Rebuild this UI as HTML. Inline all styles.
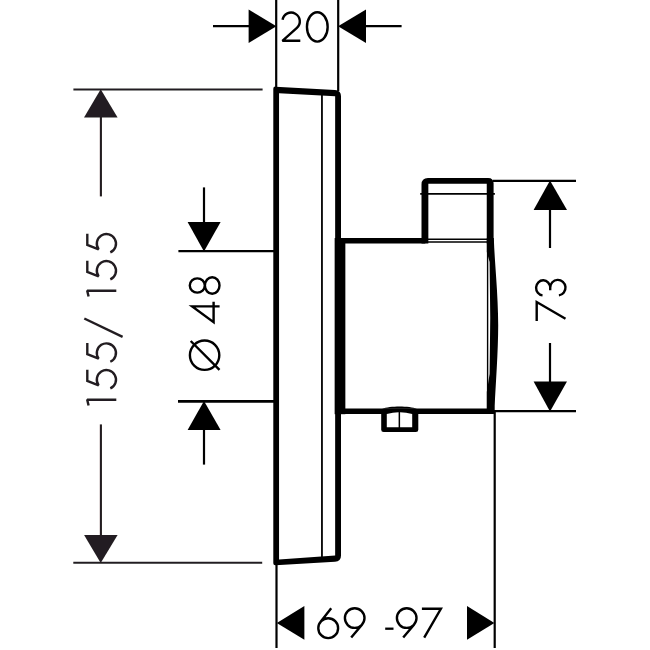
<!DOCTYPE html>
<html><head><meta charset="utf-8"><title>Dimension drawing</title>
<style>html,body{margin:0;padding:0;background:#fff;font-family:"Liberation Sans",sans-serif;}svg{display:block}</style></head>
<body>
<svg width="650" height="650" viewBox="0 0 650 650" shape-rendering="geometricPrecision">
<defs><filter id="b" x="0" y="0" width="650" height="650" filterUnits="userSpaceOnUse"><feGaussianBlur stdDeviation="0.6"/></filter></defs>
<rect width="650" height="650" fill="#fff"/>
<g filter="url(#b)">
<path d="M276.2,0 L276.2,88" stroke="#000" stroke-width="2.2" fill="none" stroke-linecap="butt"/>
<path d="M338.2,0 L338.2,91" stroke="#000" stroke-width="2.2" fill="none" stroke-linecap="butt"/>
<path d="M276.4,26.3 L248.6,9.6 L248.6,43 Z" fill="#000"/>
<path d="M213,26.2 L249,26.2" stroke="#000" stroke-width="2.2" fill="none" stroke-linecap="butt"/>
<path d="M338.1,26.3 L366,9.6 L366,43 Z" fill="#000"/>
<path d="M366,26.2 L401.6,26.2" stroke="#000" stroke-width="2.2" fill="none" stroke-linecap="butt"/>
<path d="M1.03,-21.01 A8.7,8.7 0 1 1 15.39,-13 L0.9,0 L18.8,0" transform="translate(281.5,40.8)" fill="none" stroke="#000" stroke-width="2.4" stroke-linecap="butt" stroke-linejoin="miter" stroke-miterlimit="2"/>
<path d="M1.2,-13.9 a10.35,14.7 0 1 0 20.7,0 a10.35,14.7 0 1 0 -20.7,0" transform="translate(305.75,40.8)" fill="none" stroke="#000" stroke-width="2.4" stroke-linecap="butt" stroke-linejoin="miter" stroke-miterlimit="6"/>
<path d="M73.4,89.45 L262.6,89.45" stroke="#231f20" stroke-width="2.05" fill="none" stroke-linecap="butt"/>
<path d="M73.3,562.7 L262.2,562.7" stroke="#231f20" stroke-width="2.05" fill="none" stroke-linecap="butt"/>
<path d="M100.7,89.2 L84,117.6 L117.6,117.6 Z" fill="#231f20"/>
<path d="M100.9,117 L100.9,196.4" stroke="#231f20" stroke-width="2.1" fill="none" stroke-linecap="butt"/>
<path d="M100.7,563 L84.1,535.1 L117.6,535.1 Z" fill="#231f20"/>
<path d="M100.9,424.4 L100.9,536" stroke="#231f20" stroke-width="2.1" fill="none" stroke-linecap="butt"/>
<path d="M-5.7,-27.7 L0,-29.1 L0,0" transform="translate(116.3,399.8) rotate(-90)" fill="none" stroke="#231f20" stroke-width="2.4" stroke-linecap="butt" stroke-linejoin="miter" stroke-miterlimit="1"/>
<path d="M19.2,-29 L8.1,-29 L3.66,-17.67 A9.6,9.6 0 1 1 0.53,-6" transform="translate(116.3,389) rotate(-90)" fill="none" stroke="#231f20" stroke-width="2.4" stroke-linecap="butt" stroke-linejoin="miter" stroke-miterlimit="2"/>
<path d="M19.2,-29 L8.1,-29 L3.66,-17.67 A9.6,9.6 0 1 1 0.53,-6" transform="translate(116.3,362.3) rotate(-90)" fill="none" stroke="#231f20" stroke-width="2.4" stroke-linecap="butt" stroke-linejoin="miter" stroke-miterlimit="2"/>
<path d="M19.2,-32 L0.8,6.3" transform="translate(116.3,337.7) rotate(-90)" fill="none" stroke="#231f20" stroke-width="2.4" stroke-linecap="butt" stroke-linejoin="miter" stroke-miterlimit="6"/>
<path d="M-5.7,-27.7 L0,-29.1 L0,0" transform="translate(116.3,290.8) rotate(-90)" fill="none" stroke="#231f20" stroke-width="2.4" stroke-linecap="butt" stroke-linejoin="miter" stroke-miterlimit="1"/>
<path d="M19.2,-29 L8.1,-29 L3.66,-17.67 A9.6,9.6 0 1 1 0.53,-6" transform="translate(116.3,280) rotate(-90)" fill="none" stroke="#231f20" stroke-width="2.4" stroke-linecap="butt" stroke-linejoin="miter" stroke-miterlimit="2"/>
<path d="M19.2,-29 L8.1,-29 L3.66,-17.67 A9.6,9.6 0 1 1 0.53,-6" transform="translate(116.3,253) rotate(-90)" fill="none" stroke="#231f20" stroke-width="2.4" stroke-linecap="butt" stroke-linejoin="miter" stroke-miterlimit="2"/>
<path d="M178.4,251.1 L274,251.1" stroke="#000" stroke-width="2.2" fill="none" stroke-linecap="butt"/>
<path d="M178,401.4 L274,401.4" stroke="#000" stroke-width="2.9" fill="none" stroke-linecap="butt"/>
<path d="M204,251.4 L187.6,222 L220.6,222 Z" fill="#000"/>
<path d="M204,187.4 L204,223" stroke="#000" stroke-width="2.2" fill="none" stroke-linecap="butt"/>
<path d="M204,401 L187.6,430 L220.6,430 Z" fill="#000"/>
<path d="M204,429 L204,464.6" stroke="#000" stroke-width="2.2" fill="none" stroke-linecap="butt"/>
<path d="M-14.7,-14.8 a14.7,14.7 0 1 0 29.4,0 a14.7,14.7 0 1 0 -29.4,0 M14.2,-28.7 L-14.6,0.1" transform="translate(219.4,355.2) rotate(-90)" fill="none" stroke="#000" stroke-width="2.4" stroke-linecap="butt" stroke-linejoin="miter" stroke-miterlimit="6"/>
<path d="M0,0.2 L0,-27.2 L-15.8,-5.8 L4.7,-5.8" transform="translate(219.4,306.35) rotate(-90)" fill="none" stroke="#000" stroke-width="2.4" stroke-linecap="butt" stroke-linejoin="miter" stroke-miterlimit="6"/>
<path d="M-7.1,-22.1 a7.1,7.5 0 1 0 14.2,0 a7.1,7.5 0 1 0 -14.2,0 M-8.3,-7.2 a8.3,7.3 0 1 0 16.6,0 a8.3,7.3 0 1 0 -16.6,0" transform="translate(219.4,285.5) rotate(-90)" fill="none" stroke="#000" stroke-width="2.4" stroke-linecap="butt" stroke-linejoin="miter" stroke-miterlimit="6"/>
<path d="M493,180.9 L576,180.9" stroke="#000" stroke-width="2.2" fill="none" stroke-linecap="butt"/>
<path d="M494,411.2 L576,411.2" stroke="#000" stroke-width="2.2" fill="none" stroke-linecap="butt"/>
<path d="M550,180.6 L533.6,210 L567,210 Z" fill="#000"/>
<path d="M550,209 L550,248" stroke="#000" stroke-width="2.2" fill="none" stroke-linecap="butt"/>
<path d="M550,411.4 L533.6,381.6 L567,381.6 Z" fill="#000"/>
<path d="M550,343 L550,382.5" stroke="#000" stroke-width="2.2" fill="none" stroke-linecap="butt"/>
<path d="M0.1,-28.8 L19.1,-28.8 L2.4,0" transform="translate(565.5,321.1) rotate(-90)" fill="none" stroke="#000" stroke-width="2.4" stroke-linecap="butt" stroke-linejoin="miter" stroke-miterlimit="6"/>
<path d="M1.13,-22.96 A7.55,7.05 0 1 1 8.65,-15.3 M8.85,-15.3 A7.75,7.65 0 1 1 1.18,-6.59 M8.9,-15.3 L6.2,-15.3" transform="translate(565.5,296.5) rotate(-90)" fill="none" stroke="#000" stroke-width="2.4" stroke-linecap="butt" stroke-linejoin="miter" stroke-miterlimit="6"/>
<path d="M276.5,564 L276.5,648" stroke="#000" stroke-width="2.2" fill="none" stroke-linecap="butt"/>
<path d="M494.7,411 L494.7,648" stroke="#000" stroke-width="2.2" fill="none" stroke-linecap="butt"/>
<path d="M276.8,622.9 L304.4,606.1 L304.4,639.7 Z" fill="#000"/>
<path d="M494.4,622.9 L467,606.1 L467,639.7 Z" fill="#000"/>
<path d="M14,-29.3 L3.2,-15.5 M1.1,-9.4 a9.9,9.9 0 1 0 19.8,0 a9.9,9.9 0 1 0 -19.8,0" transform="translate(317.2,637.6)" fill="none" stroke="#000" stroke-width="2.4" stroke-linecap="butt" stroke-linejoin="miter" stroke-miterlimit="6"/>
<path d="M1,-19.5 a9.8,9.8 0 1 0 19.6,0 a9.8,9.8 0 1 0 -19.6,0 M18.3,-13.2 L7.3,0" transform="translate(343.9,637.6)" fill="none" stroke="#000" stroke-width="2.4" stroke-linecap="butt" stroke-linejoin="miter" stroke-miterlimit="6"/>
<path d="M0,-8.9 L8.3,-8.9" transform="translate(385.2,637.6)" fill="none" stroke="#000" stroke-width="2.3" stroke-linecap="butt" stroke-linejoin="miter" stroke-miterlimit="6"/>
<path d="M1,-19.5 a9.8,9.8 0 1 0 19.6,0 a9.8,9.8 0 1 0 -19.6,0 M18.3,-13.2 L7.3,0" transform="translate(395.9,637.6)" fill="none" stroke="#000" stroke-width="2.4" stroke-linecap="butt" stroke-linejoin="miter" stroke-miterlimit="6"/>
<path d="M0.1,-28.8 L19.1,-28.8 L2.4,0" transform="translate(421.8,637.6)" fill="none" stroke="#000" stroke-width="2.4" stroke-linecap="butt" stroke-linejoin="miter" stroke-miterlimit="6"/>
<path fill-rule="evenodd" fill="#000" d="M275.5,86.63 L335,89.95 Q341,90.28 341,96.28 L341,555.5 Q341,561.5 335,561.84 L275.5,565.23 Q273.3,565.36 273.3,563.16 L273.3,88.71 Q273.3,86.51 275.5,86.63 Z M279.05,93.19 L335.15,96.25 L335.15,555.38 L279.05,559.39 Z"/>
<path d="M321.95,92 L321.95,560" stroke="#000" stroke-width="1.8" fill="none" stroke-linecap="butt"/>
<path d="M425.3,240.85 L340,240.85 M340,411.25 L491,411.25" fill="none" stroke="#000" stroke-width="5.5" stroke-linejoin="miter"/>
<rect x="334.65" y="238.05" width="10.7" height="176.15" fill="#000"/>
<path fill-rule="evenodd" fill="#000" d="M421.5,243.6 L421.5,184.6 Q421.5,178.1 428,178.1 L488.1,178.1 Q493.6,178.1 493.6,183.6 L493.6,243.6 Z M428.35,243.6 L428.35,183.75 L486.75,183.75 L486.75,243.6 Z"/>
<path d="M420.2,193.85 L494.9,193.85" stroke="#000" stroke-width="1.8" fill="none" stroke-linecap="butt"/>
<path d="M427,239.3 L488,239.3" stroke="#000" stroke-width="1.5" fill="none" stroke-linecap="butt"/>
<path d="M427,241.9 L488,241.9" stroke="#000" stroke-width="1.5" fill="none" stroke-linecap="butt"/>
<path d="M486.8,238 L493.8,238 C494.6,262 498.2,295 498.2,325 C498.2,352 495.6,385 494.7,406 L494.7,412.9 L493.7,413.9 L486.8,413.9 L486.8,392 L489.6,374 Q490.9,318 489.6,262 L486.8,252 Z" fill="#000"/>
<path d="M487.6,241 L487.6,411" stroke="#000" stroke-width="1.4" fill="none" stroke-linecap="butt"/>
<path fill="#000" d="M381.2,410 L381.2,429.7 Q381.2,432.1 383.6,432.1 L415.9,432.1 Q418.3,432.1 418.3,429.7 L418.3,410 Z"/>
<path d="M382,408.8 C390,405.6 409,405.6 417,408.8 Z" fill="#000"/>
<path fill="#fff" d="M386.8,413.9 Q393,412.5 398.6,412.3 L398.6,427.15 L386.8,427.15 Z M400.1,412.3 Q406,412.5 412.2,413.9 L412.2,427.15 L400.1,427.15 Z"/>
</g>
</svg>
</body></html>
